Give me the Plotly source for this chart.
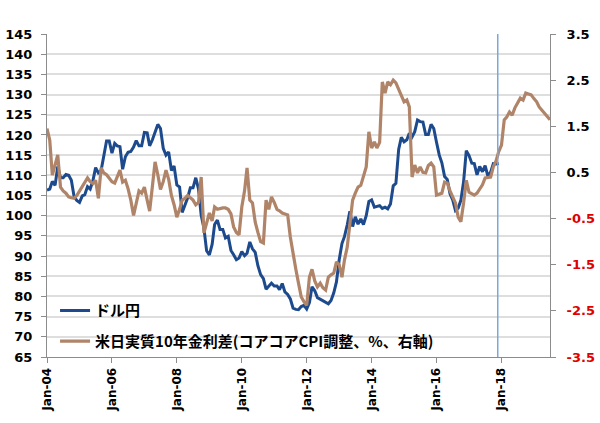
import pandas as pd
import plotly.graph_objects as go

# USD/JPY monthly, Jan-2004 .. Dec-2017 (left axis)
usdjpy = [
    106.3, 106.6, 108.5, 107.5, 112.2, 109.4, 109.4, 110.2, 110.0, 108.8, 104.7, 103.8,
    103.3, 104.9, 105.2, 107.2, 106.6, 108.7, 111.9, 110.6, 111.2, 114.8, 118.5, 118.5,
    115.5, 117.9, 117.3, 117.1, 111.5, 114.6, 115.7, 115.9, 117.0, 118.6, 117.3, 117.3,
    120.6, 120.5, 117.3, 118.8, 120.8, 122.6, 121.6, 116.7, 115.0, 115.8, 111.2, 112.3,
    107.6, 107.1, 100.8, 102.6, 104.4, 106.9, 106.9, 109.4, 106.6, 100.1, 96.9, 91.3,
    90.3, 92.9, 97.8, 98.9, 96.6, 96.6, 94.5, 94.9, 91.4, 90.3, 89.1, 89.5,
    91.1, 90.1, 90.7, 93.5, 91.8, 90.9, 87.6, 85.4, 84.4, 81.8, 82.6, 83.3,
    82.6, 82.6, 81.7, 83.2, 81.1, 80.5, 79.4, 77.1, 76.8, 76.7, 77.5, 77.8,
    76.9, 78.5, 82.4, 81.4, 79.7, 79.3, 79.0, 78.7, 78.2, 79.0, 80.9, 83.6,
    89.1, 93.1, 94.8, 97.7, 101.1, 97.3, 99.7, 97.9, 99.2, 97.8, 100.0, 103.5,
    103.9, 102.1, 102.3, 102.5, 101.8, 102.1, 101.7, 102.9, 107.4, 108.0, 116.4, 119.4,
    118.3, 118.8, 120.4, 119.5, 120.8, 123.7, 123.3, 123.2, 120.1, 120.1, 122.6, 121.6,
    118.2, 115.0, 113.1, 109.7, 109.0, 105.4, 103.9, 101.3, 101.9, 103.8, 108.5, 116.1,
    114.9, 113.0, 112.9, 110.1, 112.2, 110.9, 112.4, 109.8, 110.8, 112.9, 112.8, 112.9,
]

# US-Japan real 10y yield spread (%), Jan-2004 .. Jul-2019 (right axis)
spread = [
    1.45, 1.2, 0.44, 0.66, 0.88, 0.18, 0.1, 0.05, -0.03, -0.05, -0.06, 0.0,
    0.1, 0.18, 0.26, 0.38, 0.3, 0.26, 0.33, -0.06, 0.6, 0.49, 0.45, 0.38,
    0.3, 0.27, 0.4, 0.55, 0.29, 0.33, 0.15, -0.1, -0.43, -0.2, 0.1, 0.05,
    0.18, -0.1, -0.34, 0.2, 0.73, 0.45, 0.13, 0.3, 0.55, 0.35, 0.0, -0.2,
    -0.47, -0.3, -0.1, -0.06, 0.0, -0.05, -0.1, -0.2, -0.15, 0.4, -0.81, -0.6,
    -0.38, -0.55, -0.25, -0.3, -0.28, -0.27, -0.27, -0.3, -0.4, -0.68, -0.8, -0.85,
    -0.25, 0.1, 0.6, -0.1, -0.16, -0.58, -0.8, -1.0, -1.03, -0.1, -0.3, -0.03,
    -0.15, -0.3, -0.33, -0.38, -0.4, -0.42, -0.9, -1.3, -1.6, -1.9, -2.2, -2.3,
    -2.38, -1.77, -1.6, -1.85, -1.98, -1.9, -2.0, -2.05, -1.77, -1.72, -1.68, -1.44,
    -1.5, -1.77, -1.4, -1.12, -0.53, -0.1, 0.05, 0.18, 0.22, 0.45, 0.62, 1.38,
    1.03, 1.16, 1.03, 1.15, 2.46, 2.22, 2.46, 2.4, 2.5, 2.44, 2.3, 2.18,
    2.03, 2.07, 1.92, 0.4, 0.66, 0.49, 0.62, 0.5, 0.49, 0.65, 0.7, 0.62,
    0.01, 0.03, 0.05, 0.29, 0.27, 0.1, -0.03, -0.16, -0.47, -0.57, -0.16, 0.33,
    0.07, 0.03, 0.01, 0.05, 0.15, 0.23, 0.38, 0.39, 0.4, 0.62, 0.75, 0.95,
    1.09, 1.64, 1.7, 1.81, 1.74, 1.9, 2.0, 2.11, 2.07, 2.22, 2.2, 2.18,
    2.1, 2.03, 1.92, 1.85, 1.79, 1.7, 1.64,
]

months_jpy = pd.date_range("2004-01-01", periods=len(usdjpy), freq="MS")
months_spread = pd.date_range("2004-01-01", periods=len(spread), freq="MS")

x_ticks = ["2004-01-01", "2006-01-01", "2008-01-01", "2010-01-01",
           "2012-01-01", "2014-01-01", "2016-01-01", "2018-01-01"]
right_ticks = [-3.5, -2.5, -1.5, -0.5, 0.5, 1.5, 2.5, 3.5]
right_text = [f'<span style="color:#e00000">{v}</span>' if v < 0 else str(v) for v in right_ticks]

names = ["ドル円", "米日実質10年金利差(コアコアCPI調整、%、右軸)"]

fig = go.Figure()
fig.add_trace(go.Scatter(x=months_jpy, y=usdjpy, mode="lines", name=names[0],
                         line=dict(color="#1c4a8c", width=3), legendgroup="a"))
fig.add_trace(go.Scatter(x=months_spread, y=spread, mode="lines", name=names[1],
                         line=dict(color="#b08468", width=3.2), yaxis="y2", legendgroup="b"))

# marker line at end of the USD/JPY data
fig.add_shape(type="line", x0="2017-11-20", x1="2017-11-20", y0=0, y1=1,
              xref="x", yref="paper", line=dict(color="#7ea6d8", width=1.5))

axis_font = dict(family="DejaVu Sans", size=13, color="black", weight="bold")

fig.update_layout(
    width=600, height=423,
    margin=dict(l=47, r=50, t=34, b=66),
    paper_bgcolor="white", plot_bgcolor="white",
    font=dict(family="Noto Sans CJK JP", color="black"),
    xaxis=dict(type="date", range=["2004-01-01", "2019-07-01"],
               tickvals=x_ticks, tickformat="%b-%y", tickangle=-90,
               tickfont=dict(family="DejaVu Sans", size=12, color="black", weight="bold"),
               showgrid=False, showline=True, automargin=False,
               linecolor="#8c8c8c", ticks="outside", ticklen=5, tickcolor="#8c8c8c"),
    yaxis=dict(range=[65, 145], dtick=5, tick0=65, tickfont=axis_font,
               showgrid=True, gridcolor="#dedede", gridwidth=1.5, automargin=False,
               showline=True, linecolor="#8c8c8c", ticks="outside", ticklen=5,
               tickcolor="#8c8c8c", zeroline=False, ticklabelstandoff=6),
    yaxis2=dict(range=[-3.5, 3.5], tickvals=right_ticks, ticktext=right_text,
                overlaying="y", side="right", tickfont=axis_font, showgrid=False,
                showline=True, linecolor="#8c8c8c", ticks="outside", ticklen=5,
                tickcolor="#8c8c8c", zeroline=False, automargin=False,
                ticklabelstandoff=8),
    legend=dict(x=0.016, y=0.194, xanchor="left", yanchor="top",
                bgcolor="rgba(0,0,0,0)", tracegroupgap=8,
                font=dict(family="Noto Sans CJK JP", size=15, color="black", weight="bold")),
    showlegend=True,
)

# page body has a default 8px margin; drop it so the figure sits at the window origin
fig.write_html("out.html", config={"displayModeBar": False},
               post_script="document.body.style.margin='0';")
